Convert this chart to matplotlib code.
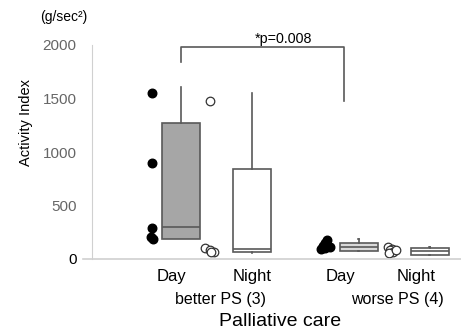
import matplotlib
matplotlib.use("Agg")
import matplotlib.pyplot as plt
from matplotlib.lines import Line2D

plt.rcParams['font.family'] = ['Liberation Sans', 'DejaVu Sans']

# box positions (Day/Night for better PS, Day/Night for worse PS)
positions = [1.0, 2.0, 3.5, 4.5]
box_q1 = [187, 65, 75, 37]
box_med = [300, 90, 112, 75]
box_q3 = [1271, 841, 150, 103]
whis_lo = [187, 60, 75, 37]
whis_hi = [1607, 1550, 187, 110]
box_fill = ['#a6a6a6', 'white', '#d9d9d9', 'white']

# individual values (black = day, open = night)
better_day_pts = [1550, 900, 290, 205, 190]
better_day_x = [0.59, 0.59, 0.59, 0.57, 0.61]
better_night_pts = [1480, 105, 80, 70, 62]
better_night_x = [1.41, 1.34, 1.40, 1.46, 1.42]
worse_day_pts = [180, 150, 125, 100, 95, 110]
worse_day_x = [3.06, 3.02, 3.00, 3.03, 2.97, 3.09]
worse_night_pts = [115, 95, 80, 65, 60, 85]
worse_night_x = [3.91, 3.97, 3.94, 3.98, 3.92, 4.02]

group_ticks = ['Day', 'Night', 'Day', 'Night']
group_tick_x = [0.86, 2.0, 3.25, 4.31]
groups = ['better PS (3)', 'worse PS (4)']
group_x = [1.55, 4.05]
yticks = [0, 500, 1000, 1500, 2000]

W, H = 461, 336
fig = plt.figure(figsize=(W / 100, H / 100), dpi=100)
ax = fig.add_axes([92 / W, 1 - 259 / H, 1 - 92 / W, (259 - 45) / H])

edge = '#595959'
stats = []
for i in range(len(positions)):
    stats.append(dict(med=box_med[i], q1=box_q1[i], q3=box_q3[i],
                      whislo=whis_lo[i], whishi=whis_hi[i], fliers=[]))
bp = ax.bxp(stats, positions=positions, widths=0.54, patch_artist=True,
            showfliers=False,
            boxprops=dict(edgecolor=edge, linewidth=1.2),
            medianprops=dict(color=edge, linewidth=1.2),
            whiskerprops=dict(color=edge, linewidth=1.2),
            capprops=dict(color=edge, linewidth=1.2))
for patch, c in zip(bp['boxes'], box_fill):
    patch.set_facecolor(c)
for cap in bp['caps']:
    cap.set_xdata([cap.get_xdata()[0] + 0.13, cap.get_xdata()[1] - 0.13])

ax.scatter(better_day_x, better_day_pts, s=38, color='black', zorder=3)
ax.scatter(worse_day_x, worse_day_pts, s=38, color='black', zorder=3)
ax.scatter(better_night_x, better_night_pts, s=38, facecolor='white',
           edgecolor='#333333', linewidth=0.9, zorder=3)
ax.scatter(worse_night_x, worse_night_pts, s=38, facecolor='white',
           edgecolor='#333333', linewidth=0.9, zorder=3)

# significance bracket
ax.plot([1.0, 1.0, 3.3, 3.3], [1840, 1980, 1980, 1480], color=edge,
        linewidth=1.2, clip_on=False)
ax.text(2.44, 1995, '*p=0.008', ha='center', va='bottom', fontsize=10.3)

ax.set_xlim(-0.254, 4.94)
ax.set_ylim(0, 2000)
ax.set_yticks(yticks)
ax.set_yticklabels([str(v) for v in yticks], fontsize=11, color='#666666')
ax.get_yticklabels()[0].set_color('black')
ax.tick_params(axis='y', length=0, pad=11)
ax.set_xticks([])
for s in ['top', 'right', 'bottom']:
    ax.spines[s].set_visible(False)
ax.spines['left'].set_color('#d0d0d0')
fig.add_artist(Line2D([83 / W, 1], [1 - 259 / H, 1 - 259 / H],
                      color='#d0d0d0', linewidth=1.2))

trans = ax.get_xaxis_transform()
for x, t in zip(group_tick_x, group_ticks):
    ax.text(x, -0.08, t, transform=trans, ha='center', va='center',
            fontsize=12)
for x, t in zip(group_x, groups):
    ax.text(x, -0.187, t, transform=trans, ha='center', va='center',
            fontsize=11.5)

fig.text(280 / W, 1 - 322 / H, 'Palliative care', ha='center',
         va='center', fontsize=14)
fig.text(26 / W, 1 - 122 / H, 'Activity Index', ha='center', va='center',
         rotation=90, fontsize=10.5)
fig.text(64 / W, 1 - 17 / H, '(g/sec²)', ha='center', va='center',
         fontsize=10)

fig.savefig('out.png', dpi=100)
